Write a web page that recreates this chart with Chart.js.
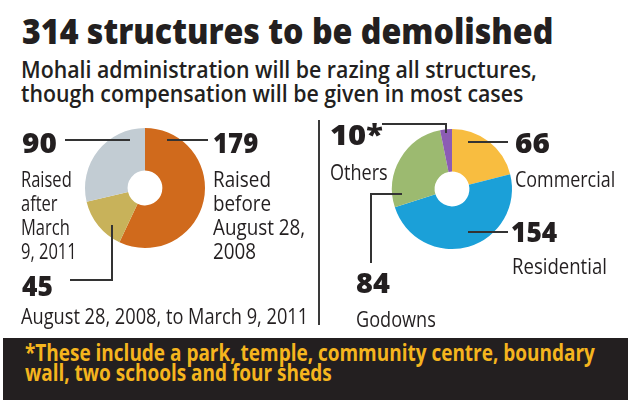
<!DOCTYPE html>
<html>
<head>
<meta charset="utf-8">
<script src="https://cdn.jsdelivr.net/npm/chart.js@4"></script>
<style>
body{margin:0;background:#fff;width:640px;height:400px;overflow:hidden;position:relative;font-family:"Open Sans",sans-serif;color:#231f20}
.t{position:absolute;white-space:pre;transform-origin:0 0}
canvas{position:absolute}
#sep{position:absolute;left:318px;top:120px;width:2px;height:205px;background:#3a3a3a}
#foot{position:absolute;left:3px;top:338px;width:625px;height:62px;background:#231f20}
</style>
</head>
<body>
<div id="foot"></div>
<div id="sep"></div>
<canvas id="periodChart" width="315" height="200" style="left:0;top:115px"></canvas>
<canvas id="typeChart" width="320" height="200" style="left:320px;top:115px"></canvas>
<script>
// data
const title = '314 structures to be demolished'
const subtitle = 'Mohali administration will be razing all structures,\nthough compensation will be given in most cases'
const footnote = '*These include a park, temple, community centre, boundary\nwall, two schools and four sheds'

const periodLabels = ['Raised\nbefore\nAugust 28,\n2008', 'August 28, 2008, to March 9, 2011', 'Raised\nafter\nMarch\n9, 2011']
const periodValues = [179, 45, 90]
const periodColors = ['#d06a1c', '#c8b25a', '#c2ccd3']

const typeLabels = ['Commercial', 'Residential', 'Godowns', 'Others']
const typeValues = [66, 154, 84, 10]
const typeMarks = ['', '', '', '*']
const typeColors = ['#f8bd40', '#1ba0d8', '#9cba70', '#8c5cb4']

// leader lines, offsets from the donut centre
const periodLeaders = [[[22,-48],[63,-48]], [[-33,37],[-33,92],[-75,92]], [[-80,-48],[-15,-48]]]
const typeLeaders = [[[16,-47],[56,-47]], [[16,43],[56,43]], [[-50,5],[-81,5],[-81,74]], [[-70,-65],[-6,-65],[-6,-56]]]

// where the text goes: x, baseline, width
const periodNumPos = [[213,153,45], [22,296,31], [22,153,35]]
const periodCapPos = [[213,187,92], [21,324,287], [21,187,56]]
const typeNumPos = [[515,153,35], [511,242,46], [356,293,34], [330,145,53]]
const typeCapPos = [[515,187,100], [512,274,95], [356,327,80], [330,180,58]]

var texts = []

function addText(txt, x, base, width, size, weight, lh, color) {
    var el = document.createElement('div')
    el.className = 't'
    el.textContent = txt
    el.style.fontSize = size + 'px'
    el.style.fontWeight = weight
    el.style.lineHeight = lh + 'px'
    el.style.left = x + 'px'
    el.style.top = (base - ((lh - 1.362 * size) / 2 + 1.069 * size)) + 'px'
    if (color) el.style.color = color
    document.body.appendChild(el)
    texts.push([el, width])
}

function fitTexts() {
    texts.forEach(function (t) {
        var w = t[0].offsetWidth
        if (w > 0) t[0].style.transform = 'scaleX(' + (t[1] / w) + ')'
    })
}

const leaderPlugin = {
    id: 'leaders',
    afterDraw: function (chart, args, opts) {
        var ctx = chart.ctx
        var arc = chart.getDatasetMeta(0).data[0]
        ctx.save()
        ctx.strokeStyle = '#333'
        ctx.lineWidth = 2
        opts.paths.forEach(function (p) {
            ctx.beginPath()
            p.forEach(function (pt, i) {
                if (i == 0) ctx.moveTo(arc.x + pt[0], arc.y + pt[1])
                else ctx.lineTo(arc.x + pt[0], arc.y + pt[1])
            })
            ctx.stroke()
        })
        ctx.restore()
    }
}

function makeDonut(id, labels, values, colors, leaders, padding) {
    return new Chart(document.getElementById(id), {
        type: 'doughnut',
        data: {
            labels: labels,
            datasets: [{
                data: values,
                backgroundColor: colors,
                borderWidth: 0
            }]
        },
        options: {
            responsive: false,
            animation: false,
            cutout: '29%',
            layout: { padding: padding },
            plugins: {
                legend: { display: false },
                tooltip: { enabled: false },
                leaders: { paths: leaders }
            }
        },
        plugins: [leaderPlugin]
    })
}

makeDonut('periodChart', periodLabels, periodValues, periodColors, periodLeaders, {left: 85, right: 110, top: 13, bottom: 67})
makeDonut('typeChart', typeLabels, typeValues, typeColors, typeLeaders, {left: 72, right: 128, top: 14, bottom: 66})

addText(title, 22, 45, 531, 36, 800, 40)
addText(subtitle, 21, 79, 516, 22.5, 600, 24)

for (let i = 0; i < periodValues.length; i++) {
    addText(String(periodValues[i]), periodNumPos[i][0], periodNumPos[i][1], periodNumPos[i][2], 28, 800, 30)
    addText(periodLabels[i], periodCapPos[i][0], periodCapPos[i][1], periodCapPos[i][2], 21.5, 400, 24.3)
}
for (let i = 0; i < typeValues.length; i++) {
    addText(typeValues[i] + typeMarks[i], typeNumPos[i][0], typeNumPos[i][1], typeNumPos[i][2], 28, 800, 30)
    addText(typeLabels[i], typeCapPos[i][0], typeCapPos[i][1], typeCapPos[i][2], 21.5, 400, 24)
}

addText(footnote, 25, 362, 570, 23.5, 700, 19.5, '#f5b51e')

fitTexts()
document.fonts.ready.then(fitTexts)
</script>
</body>
</html>
